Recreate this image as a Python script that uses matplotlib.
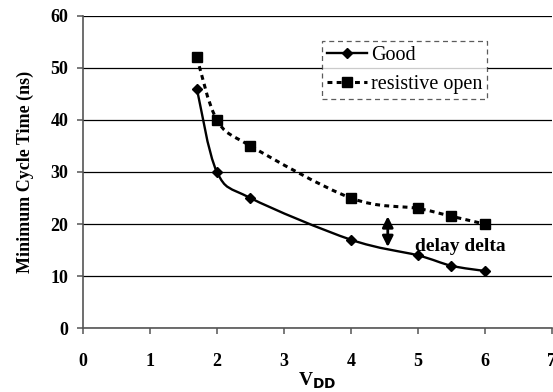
import numpy as np
import matplotlib
matplotlib.use("Agg")
from matplotlib import pyplot as plt
from matplotlib.path import Path
from matplotlib.patches import PathPatch

plt.rcParams['font.family'] = ['Liberation Serif', 'DejaVu Serif']

vdd = [1.7, 2, 2.5, 4, 5, 5.5, 6]
good = [46, 30, 25, 17, 14, 12, 11]
resistive_open = [52, 40, 35, 25, 23, 21.5, 20]
delta_x = 4.55
delta_top = 21.5
delta_bottom = 15.6


def smooth_path(xs, ys, t=1/6.):
    # Catmull-Rom style bezier through the points (like a smoothed spreadsheet line)
    pts = np.column_stack([xs, ys]).astype(float)
    verts = [pts[0]]
    codes = [Path.MOVETO]
    n = len(pts)
    for i in range(n - 1):
        p0 = pts[max(i - 1, 0)]
        p1 = pts[i]
        p2 = pts[i + 1]
        p3 = pts[min(i + 2, n - 1)]
        c1 = p1 + (p2 - p0) * t
        c2 = p2 - (p3 - p1) * t
        verts += [c1, c2, p2]
        codes += [Path.CURVE4] * 3
    return Path(verts, codes)


fig = plt.figure(figsize=(5.53, 3.92), dpi=100)
ax = fig.add_axes([0.150, 0.1625, 0.848, 0.7975])

dash = (0, (1.6, 1.4))
ax.add_patch(PathPatch(smooth_path(vdd, good), fill=False, color='black', lw=1.7, zorder=3))
ax.add_patch(PathPatch(smooth_path(vdd, resistive_open), fill=False, color='black', lw=2.2,
                       linestyle=dash, zorder=3))
ax.plot(vdd, good, linestyle='none', marker='D', ms=5, color='black', zorder=4)
ax.plot(vdd, resistive_open, linestyle='none', marker='s', ms=6.5, color='black', zorder=4)

# proxies for legend
ax.plot([], [], '-', marker='D', ms=5, color='black', lw=1.7, label='Good')
ax.plot([], [], linestyle=dash, marker='s', ms=6.5, color='black', lw=2.2,
        label='resistive open')

ax.annotate('', xy=(delta_x, delta_top), xytext=(delta_x, delta_bottom),
            arrowprops=dict(arrowstyle='<|-|>', color='black', lw=2,
                            mutation_scale=16, shrinkA=0, shrinkB=0), zorder=5)
ax.text(4.95, 15.7, 'delay delta', fontsize=14, fontweight='bold', va='center', ha='left')

ax.set_xlim(0, 7)
ax.set_ylim(0, 60)
ax.set_xticks(range(0, 8))
ax.set_yticks(range(0, 61, 10))
ax.yaxis.grid(True, color='black', lw=0.9)
ax.set_axisbelow(True)
for s in ['top', 'right']:
    ax.spines[s].set_visible(False)
for s in ['left', 'bottom']:
    ax.spines[s].set_color('#555555')
    ax.spines[s].set_linewidth(1.2)
ax.tick_params(direction='out', length=4.5, width=1.1, colors='#555555', labelcolor='black')
for lab in ax.get_xticklabels() + ax.get_yticklabels():
    lab.set_fontweight('bold')
    lab.set_fontsize(13)
ax.tick_params(axis='x', pad=13)
ax.tick_params(axis='y', pad=6)

ax.set_ylabel('Minimum Cycle Time (ns)', fontsize=13, fontweight='bold', labelpad=12)
ax.set_xlabel(r'V$_{\mathbf{DD}}$', fontsize=14, fontweight='bold', labelpad=1)

leg = ax.legend(loc='upper left', bbox_to_anchor=(0.509, 0.918), fontsize=14.5,
                frameon=True, fancybox=False, borderpad=0.25, handlelength=2.0,
                handletextpad=0.2, labelspacing=0.45, borderaxespad=0)
leg.get_frame().set_edgecolor('#333333')
leg.get_frame().set_linestyle((0, (4, 3)))
leg.get_frame().set_linewidth(0.9)

fig.savefig('out.png', dpi=100)
